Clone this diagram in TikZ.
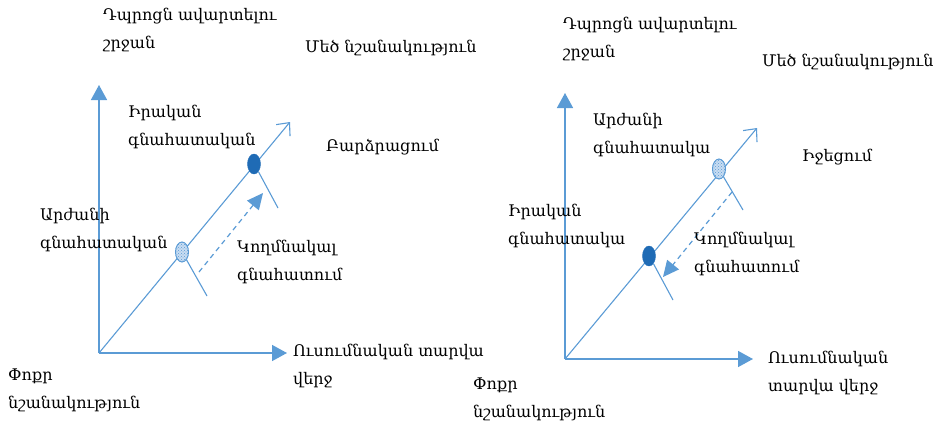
\documentclass[tikz,border=0pt]{standalone}
\usepackage{fontspec}
\setmainfont{DejaVu Serif}
\usetikzlibrary{arrows.meta,patterns,shapes.geometric}
\definecolor{axisblue}{HTML}{5B9BD5}
\definecolor{darkblue}{HTML}{1F6BB5}
\definecolor{paleblue}{HTML}{C9DDF2}
\tikzset{
  lbl/.style={anchor=west,inner sep=0pt,font=\fontsize{16}{19}\selectfont,align=left},
  axis/.style={draw=axisblue,line width=1.5pt,-{Triangle[length=15pt,width=16pt]}},
  diag/.style={draw=axisblue,line width=1.1pt,-{Straight Barb[length=10pt,width=18pt]}},
  tick/.style={draw=axisblue,line width=1.1pt},
  biasarrow/.style={draw=axisblue,line width=1.2pt,dash pattern=on 5pt off 4pt,-{Triangle[length=16pt,width=15pt]}},
  realdot/.style={ellipse,draw=darkblue,fill=darkblue,minimum width=13pt,minimum height=20pt,inner sep=0pt},
  meritdot/.style={ellipse,draw=axisblue,line width=1pt,preaction={fill=paleblue},pattern=crosshatch dots,pattern color=axisblue,minimum width=13pt,minimum height=20pt,inner sep=0pt}
}
\begin{document}
\begin{tikzpicture}[x=1pt,y=-1pt]
\useasboundingbox (0,0) rectangle (938,423);
% left: raising
\coordinate (o1) at (99,353);
\coordinate (y1) at (99,85);
\coordinate (x1) at (287,353);
\coordinate (d1) at (290,122);
\draw[axis] (o1) -- (y1);
\draw[axis] (o1) -- (x1);
\draw[diag] (o1) -- (d1);
\node[realdot] (real1) at (254,164) {};
\node[meritdot] (merit1) at (182,252) {};
\coordinate (t1) at (278,208);
\coordinate (t2) at (207,296);
\draw[tick] (real1.-60) -- (t1);
\draw[tick] (merit1.-60) -- (t2);
\coordinate (s1) at (199,272);
\coordinate (e1) at (263,193);
\draw[biasarrow] (s1) -- (e1);
\node[lbl] (end1) at (103,30) {Դպրոցն ավարտելու\\[9pt]շրջան};
\node[lbl] (big1) at (305,48) {Մեծ նշանակություն};
\node[lbl] (rl1) at (128,127) {Իրական\\[9pt]գնահատական};
\node[lbl] (up1) at (326,147) {Բարձրացում};
\node[lbl] (mr1) at (40,230) {Արժանի\\[9pt]գնահատական};
\node[lbl] (bias1) at (237,262) {Կողմնակալ\\[9pt]գնահատում};
\node[lbl] (yr1) at (293,366) {Ուսումնական տարվա\\[9pt]վերջ};
\node[lbl] (small1) at (8,390) {Փոքր\\[9pt]նշանակություն};
% right: lowering
\coordinate (o2) at (565,359);
\coordinate (y2) at (565,93);
\coordinate (x2) at (753,359);
\coordinate (d2) at (757,128);
\draw[axis] (o2) -- (y2);
\draw[axis] (o2) -- (x2);
\draw[diag] (o2) -- (d2);
\node[meritdot] (merit2) at (719,169) {};
\node[realdot] (real2) at (649,256) {};
\coordinate (t3) at (743,210);
\coordinate (t4) at (673,300);
\draw[tick] (merit2.-60) -- (t3);
\draw[tick] (real2.-60) -- (t4);
\coordinate (s2) at (732,192);
\coordinate (e2) at (663,277);
\draw[biasarrow] (s2) -- (e2);
\node[lbl] (end2) at (563,39) {Դպրոցն ավարտելու\\[9pt]շրջան};
\node[lbl] (big2) at (762,62) {Մեծ նշանակություն};
\node[lbl] (mr2) at (593,135) {Արժանի\\[9pt]գնահատակա};
\node[lbl] (down2) at (802,157) {Իջեցում};
\node[lbl] (rl2) at (508,226) {Իրական\\[9pt]գնահատակա};
\node[lbl] (bias2) at (694,254) {Կողմնակալ\\[9pt]գնահատում};
\node[lbl] (yr2) at (768,373) {Ուսումնական\\[9pt]տարվա վերջ};
\node[lbl] (small2) at (473,399) {Փոքր\\[9pt]նշանակություն};
\end{tikzpicture}
\end{document}
